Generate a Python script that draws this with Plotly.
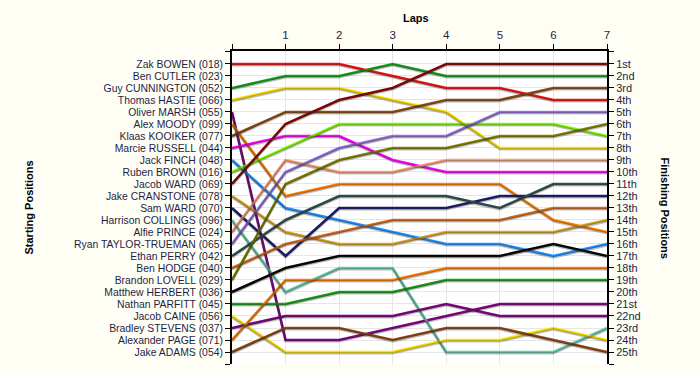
import plotly.graph_objects as go

# ---------------- data ----------------
laps = [0, 1, 2, 3, 4, 5, 6, 7]
lap_tick_labels = ["", "1", "2", "3", "4", "5", "6", "7"]

starting_names = [
    "Zak BOWEN (018)", "Ben CUTLER (023)", "Guy CUNNINGTON (052)", "Thomas HASTIE (066)",
    "Oliver MARSH (055)", "Alex MOODY (099)", "Klaas KOOIKER (077)", "Marcie RUSSELL (044)",
    "Jack FINCH (048)", "Ruben BROWN (016)", "Jacob WARD (069)", "Jake CRANSTONE (078)",
    "Sam WARD (070)", "Harrison COLLINGS (096)", "Alfie PRINCE (024)", "Ryan TAYLOR-TRUEMAN (065)",
    "Ethan PERRY (042)", "Ben HODGE (040)", "Brandon LOVELL (029)", "Matthew HERBERT (036)",
    "Nathan PARFITT (045)", "Jacob CAINE (056)", "Bradley STEVENS (037)", "Alexander PAGE (071)",
    "Jake ADAMS (054)",
]

finishing_labels = [
    "1st", "2nd", "3rd", "4th", "5th", "6th", "7th", "8th", "9th", "10th", "11th", "12th",
    "13th", "14th", "15th", "16th", "17th", "18th", "19th", "20th", "21st", "22nd", "23rd",
    "24th", "25th",
]

# positions at each lap (lap 0 = start)
driver_keys = [
    "Zak BOWEN", "Guy CUNNINGTON", "Thomas HASTIE", "Oliver MARSH", "Alex MOODY",
    "Klaas KOOIKER", "Marcie RUSSELL", "Jack FINCH", "Ruben BROWN", "Jacob WARD",
    "Jake CRANSTONE", "Sam WARD", "Harrison COLLINGS", "Alfie PRINCE", "Ryan TAYLOR-TRUEMAN",
    "Ethan PERRY", "Ben HODGE", "Brandon LOVELL", "Matthew HERBERT", "Nathan PARFITT",
    "Jacob CAINE", "Bradley STEVENS", "Alexander PAGE", "Jake ADAMS",
]
lap_positions = [
    [1, 1, 1, 2, 3, 3, 4, 4],
    [3, 2, 2, 1, 2, 2, 2, 2],
    [4, 3, 3, 4, 5, 8, 8, 8],
    [5, 24, 24, 23, 22, 21, 21, 21],
    [6, 12, 11, 11, 11, 11, 14, 15],
    [7, 5, 5, 5, 4, 4, 3, 3],
    [8, 7, 7, 9, 10, 10, 10, 10],
    [9, 13, 14, 15, 16, 16, 17, 16],
    [10, 8, 6, 6, 6, 6, 6, 7],
    [11, 6, 4, 3, 1, 1, 1, 1],
    [12, 15, 16, 16, 15, 15, 15, 14],
    [13, 17, 13, 13, 13, 12, 12, 12],
    [14, 20, 18, 18, 25, 25, 25, 23],
    [15, 9, 10, 10, 9, 9, 9, 9],
    [16, 10, 8, 7, 7, 5, 5, 5],
    [17, 14, 12, 12, 12, 13, 11, 11],
    [18, 16, 15, 14, 14, 14, 13, 13],
    [19, 11, 9, 8, 8, 7, 7, 6],
    [20, 18, 17, 17, 17, 17, 16, 17],
    [21, 21, 20, 20, 19, 19, 19, 19],
    [22, 25, 25, 25, 24, 24, 23, 24],
    [23, 22, 22, 22, 21, 22, 22, 22],
    [24, 19, 19, 19, 18, 18, 18, 18],
    [25, 23, 23, 24, 23, 23, 24, 25],
]

# ---------------- style ----------------
line_colors = [
    "#EE1111", "#169E16", "#FFE000", "#800080", "#FF8000",
    "#8B4A13", "#FF00FF", "#1E90FF", "#7CFC00", "#8B0000",
    "#DAA520", "#191970", "#66CDAA", "#FFA07A", "#9370DB",
    "#2F4F4F", "#D2691E", "#808000", "#000000", "#169E16",
    "#FFE600", "#800080", "#FF8000", "#8B4513",
]

FONT = "Liberation Sans, Arial, sans-serif"
TXT = "#1E1E46"
BG = "#FFFEF4"
Y_TOP, Y_BOT = -0.08, 26
SHADOW_SHIFT = 0.11

fig = go.Figure()

# shadows
for key, pos in zip(driver_keys, lap_positions):
    fig.add_trace(go.Scatter(
        x=laps, y=pos, mode="lines", yaxis="y3", hoverinfo="skip", showlegend=False,
        line=dict(color="rgba(40,40,40,0.3)", width=2.6),
    ))

for key, pos, col in zip(driver_keys, lap_positions, line_colors):
    fig.add_trace(go.Scatter(
        x=laps, y=pos, mode="lines", name=key, showlegend=False,
        line=dict(color=col, width=2.6),
    ))

# invisible trace for right axis
fig.add_trace(go.Scatter(x=[0], y=[1], yaxis="y2", mode="markers",
                         marker=dict(opacity=0), hoverinfo="skip", showlegend=False))

tick_rows = list(range(0, 27))
left_text = [""] + starting_names + [""]
right_text = [""] + finishing_labels + [""]

fig.update_layout(
    width=700, height=375,
    margin=dict(l=232, r=93, t=51, b=11, autoexpand=False),
    paper_bgcolor=BG,
    plot_bgcolor="#FFFFFF",
    font=dict(family=FONT, size=11, color=TXT),
    xaxis=dict(
        range=[0, 7], side="top", tickmode="array", tickvals=laps, ticktext=lap_tick_labels,
        showgrid=True, gridcolor="#E6E6E6", gridwidth=1, zeroline=False, automargin=False,
        showline=True, linecolor="#000000", linewidth=2, mirror=False,
        ticks="outside", ticklen=5, tickcolor="#000000", tickwidth=1,
        tickfont=dict(family=FONT, size=11.5, color=TXT),
    ),
    yaxis=dict(
        range=[Y_BOT, Y_TOP], tickmode="array", tickvals=tick_rows, ticktext=left_text,
        showgrid=True, gridcolor="#E6E6E6", gridwidth=1, zeroline=False, automargin=False,
        showline=True, linecolor="#000000", linewidth=2,
        ticks="outside", ticklen=5, tickcolor="#000000", tickwidth=1,
        tickfont=dict(family=FONT, size=10.4, color=TXT),
    ),
    yaxis2=dict(
        range=[Y_BOT, Y_TOP], overlaying="y", side="right", tickmode="array",
        tickvals=tick_rows, ticktext=right_text, showgrid=False, zeroline=False,
        automargin=False,
        showline=True, linecolor="#000000", linewidth=2,
        ticks="outside", ticklen=5, tickcolor="#000000", tickwidth=1,
        tickfont=dict(family=FONT, size=11, color=TXT),
    ),
    yaxis3=dict(
        range=[Y_BOT - SHADOW_SHIFT, Y_TOP - SHADOW_SHIFT], overlaying="y",
        visible=False, showgrid=False, zeroline=False, automargin=False,
    ),
    annotations=[
        dict(text="<b>Laps</b>", xref="paper", yref="paper", x=0.49, y=1.0, yshift=33,
             showarrow=False, font=dict(family=FONT, size=11, color="#000000"),
             xanchor="center", yanchor="middle"),
        dict(text="<b>Starting Positions</b>", xref="paper", yref="paper", x=0, xshift=-204,
             y=0.5, textangle=-90, showarrow=False,
             font=dict(family=FONT, size=11, color="#000000"), xanchor="center", yanchor="middle"),
        dict(text="<b>Finishing Positions</b>", xref="paper", yref="paper", x=1, xshift=58,
             y=0.5, textangle=90, showarrow=False,
             font=dict(family=FONT, size=11, color="#000000"), xanchor="center", yanchor="middle"),
    ],
)

fig.write_html(
    "out.html",
    config={"displayModeBar": False},
    post_script=(
        "document.body.style.margin='0px';"
        "document.body.style.background='" + BG + "';"
        "document.body.style.overflow='hidden';"
    ),
)
